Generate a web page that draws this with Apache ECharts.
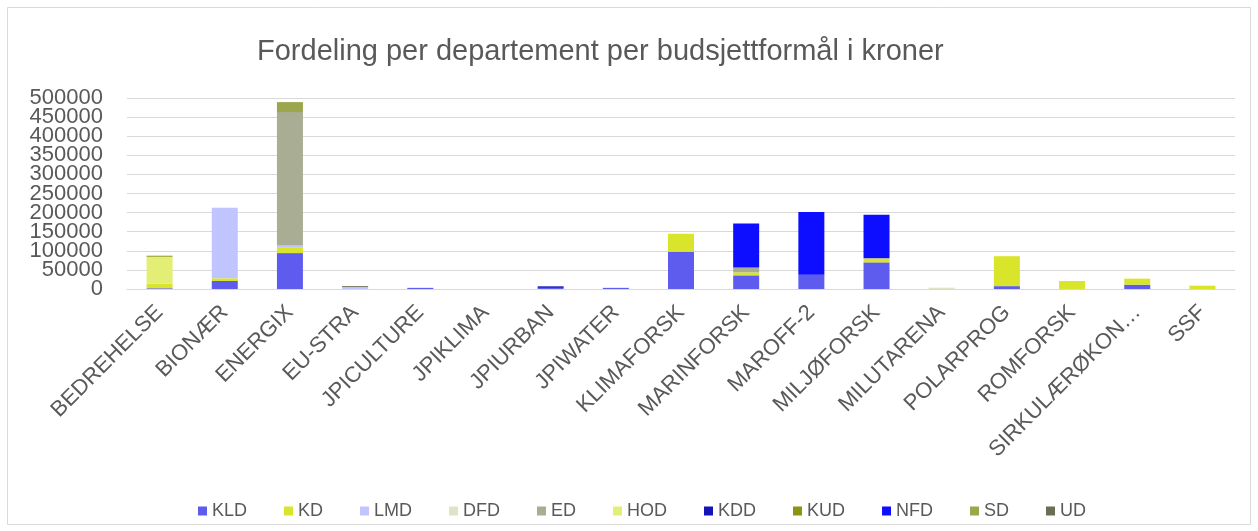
<!DOCTYPE html>
<html>
<head>
<meta charset="utf-8">
<script src="https://cdn.jsdelivr.net/npm/echarts@6/dist/echarts.min.js"></script>
<style>
  html, body { margin: 0; padding: 0; background: #fff; }
  #chart { width: 1258px; height: 531px; }
</style>
</head>
<body>
<div id="chart"></div>
<script>
// data
const categories = ['BEDREHELSE', 'BIONÆR', 'ENERGIX', 'EU-STRA', 'JPICULTURE', 'JPIKLIMA', 'JPIURBAN', 'JPIWATER',
    'KLIMAFORSK', 'MARINFORSK', 'MAROFF-2', 'MILJØFORSK', 'MILUTARENA', 'POLARPROG', 'ROMFORSK', 'SIRKULÆRØKON…', 'SSF'];

const KLD = [2000, 21000, 94000, 0, 3000, 0, 3000, 3000, 97600, 35700, 37500, 69700, 0, 7500, 0, 11300, 0];
const KD  = [12000, 7000, 15700, 0, 0, 0, 0, 0, 47000, 7800, 0, 10500, 0, 78400, 20900, 15700, 8700];
const LMD = [0, 184700, 4400, 5000, 0, 0, 0, 0, 0, 0, 0, 0, 0, 0, 0, 0, 0];
const DFD = [0, 0, 0, 0, 0, 0, 0, 0, 0, 0, 0, 0, 3500, 0, 0, 0, 0];
const ED  = [0, 0, 349000, 0, 0, 0, 0, 0, 0, 13000, 0, 0, 0, 0, 0, 0, 0];
const HOD = [70500, 0, 0, 0, 0, 0, 0, 0, 0, 0, 0, 0, 0, 0, 0, 0, 0];
const KDD = [0, 0, 0, 0, 0, 0, 4000, 0, 0, 0, 0, 0, 0, 0, 0, 0, 0];
const KUD = [2600, 0, 0, 0, 0, 0, 0, 0, 0, 0, 0, 0, 0, 0, 0, 0, 0];
const NFD = [0, 0, 0, 0, 0, 0, 0, 0, 0, 115000, 163800, 114100, 0, 0, 0, 0, 0];
const SD  = [0, 0, 26100, 0, 0, 0, 0, 0, 0, 0, 0, 0, 0, 0, 0, 0, 0];
const UD  = [0, 0, 0, 2500, 0, 0, 0, 0, 0, 0, 0, 0, 0, 0, 0, 0, 0];

const seriesNames = ['KLD', 'KD', 'LMD', 'DFD', 'ED', 'HOD', 'KDD', 'KUD', 'NFD', 'SD', 'UD'];
const seriesData = [KLD, KD, LMD, DFD, ED, HOD, KDD, KUD, NFD, SD, UD];
const colors = ['#5E5CEE', '#D9E52A', '#C0C4FF', '#DFE4C4', '#A9AD94', '#E2EE74',
    '#1414B8', '#8C9412', '#0D0DFF', '#9CA64C', '#6B6E55'];

const yMax = 500000;
const yStep = 50000;

const font = 'Liberation Sans, Arial, sans-serif';
const chart = echarts.init(document.getElementById('chart'));

// the tick labels are packed tight, so they are split over two stacked axes
// (even ticks on one, odd on the other) to stop ECharts hiding any of them
function yAxisHalf(odd) {
    return {
        type: 'value',
        position: 'left',
        min: 0,
        max: yMax,
        interval: yStep,
        axisLine: { show: false },
        axisTick: { show: false },
        splitLine: { show: !odd, lineStyle: { color: '#d9d9d9' } },
        axisLabel: {
            margin: 24,
            showMinLabel: !odd,
            showMaxLabel: !odd,
            fontFamily: font,
            fontSize: 22,
            color: '#595959',
            formatter: function (v) {
                const isOdd = Math.round(v / yStep) % 2 === 1;
                return isOdd === odd ? String(v) : '';
            }
        }
    };
}

const option = {
    backgroundColor: '#ffffff',
    color: colors,
    animation: false,
    title: {
        text: 'Fordeling per departement per budsjettformål i kroner',
        left: 252,
        top: 32,
        textStyle: { fontFamily: font, fontSize: 29, fontWeight: 'normal', color: '#595959' }
    },
    legend: {
        data: seriesNames,
        bottom: 6,
        left: 193,
        icon: 'rect',
        itemWidth: 9,
        itemHeight: 9,
        itemGap: 37,
        textStyle: { fontFamily: font, fontSize: 18, color: '#595959' }
    },
    grid: { left: 127, right: 23, top: 98, bottom: 242 },
    xAxis: {
        type: 'category',
        data: categories,
        axisLine: { lineStyle: { color: '#d9d9d9' } },
        axisTick: { show: false },
        axisLabel: {
            interval: 0,
            rotate: 45,
            margin: 20,
            fontFamily: font,
            fontSize: 22,
            color: '#595959'
        }
    },
    yAxis: [yAxisHalf(false), yAxisHalf(true)],
    graphic: [{
        type: 'rect',
        shape: { x: 7.5, y: 7.5, width: 1243, height: 517 },
        style: { fill: null, stroke: '#d9d9d9', lineWidth: 1 },
        silent: true
    }],
    series: seriesNames.map(function (name, i) {
        return {
            name: name,
            type: 'bar',
            stack: 'total',
            barWidth: 26,
            yAxisIndex: 0,
            data: seriesData[i]
        };
    })
};

chart.setOption(option);
</script>
</body>
</html>
